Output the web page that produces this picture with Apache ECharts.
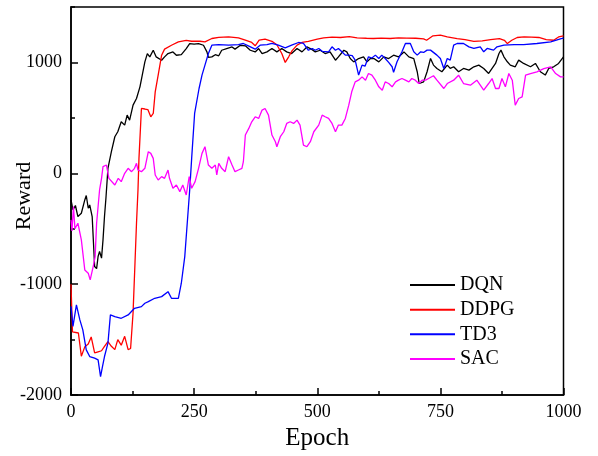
<!DOCTYPE html>
<html>
<head>
<meta charset="utf-8">
<script src="https://cdn.jsdelivr.net/npm/echarts@6/dist/echarts.min.js"></script>
<style>html,body{margin:0;padding:0;background:#fff;}#c{width:598px;height:456px;}</style>
</head>
<body>
<div id="c"></div>
<script>
const seriesNames = ['DQN', 'DDPG', 'TD3', 'SAC'];
const seriesColors = ['#000000', '#ff0000', '#0000ff', '#ff00ff'];
const xTicks = [0, 250, 500, 750, 1000];
const yTicks = [-2000, -1000, 0, 1000];

const dqnEpochs = [0,4,9,14,21,28,31,35,38,43,48,52,55,58,62,65,68,71,75,82,89,95,102,109,114,119,126,133,140,144,150,155,160,167,173,184,190,197,207,214,224,234,241,250,259,269,276,279,286,293,300,306,316,327,333,344,354,364,374,381,388,398,408,418,428,438,448,459,469,479,486,496,506,516,526,537,543,554,560,567,574,584,594,601,608,615,625,635,645,655,665,676,686,696,703,707,716,723,730,736,743,753,764,770,777,787,797,808,818,828,838,848,855,862,869,873,879,886,892,902,909,919,933,943,953,963,970,980,990,1000];
const dqnValues = [-240,-330,-290,-390,-360,-240,-200,-315,-285,-390,-840,-860,-750,-705,-765,-600,-390,-220,45,195,330,375,465,435,525,480,615,675,780,870,1005,1080,1050,1110,1050,1020,1050,1080,1095,1065,1070,1125,1170,1165,1170,1155,1095,1045,1050,1070,1060,1110,1125,1140,1120,1155,1150,1110,1095,1125,1080,1095,1125,1095,1125,1095,1080,1125,1095,1140,1125,1095,1110,1080,1095,1020,1050,1110,1095,1035,1005,1035,1050,1005,1035,1035,1005,1050,1035,1065,1050,1095,1050,1035,916,810,825,916,1036,976,946,916,976,946,961,916,946,931,961,976,946,901,946,991,1081,1111,1051,1006,976,961,1021,991,961,991,916,886,946,961,991,1051];

const ddpgEpochs = [0,3,15,21,28,35,41,48,55,62,68,75,82,89,95,102,109,116,121,126,130,133,136,138,143,150,156,162,167,171,177,184,190,204,218,234,245,262,272,286,300,320,340,354,367,374,382,394,408,418,428,435,442,449,459,469,482,500,513,530,547,565,581,600,614,630,648,665,682,700,716,722,735,750,764,784,800,818,835,852,870,880,886,895,906,920,935,950,965,980,990,1000];
const ddpgValues = [-1000,-1430,-1440,-1650,-1565,-1540,-1475,-1620,-1610,-1600,-1560,-1518,-1560,-1590,-1500,-1550,-1470,-1590,-1580,-1260,-800,-450,-150,135,585,580,575,510,540,735,885,1065,1120,1155,1185,1200,1191,1191,1186,1216,1226,1231,1221,1201,1180,1150,1201,1211,1191,1160,1081,1000,1051,1106,1156,1180,1191,1210,1222,1228,1225,1232,1222,1218,1216,1220,1216,1222,1220,1218,1212,1200,1240,1246,1230,1215,1205,1190,1195,1205,1215,1200,1170,1200,1225,1230,1228,1225,1205,1200,1230,1240];

const td3Epochs = [0,4,11,18,24,31,38,48,55,60,64,68,75,80,89,102,116,129,143,150,157,170,184,197,204,218,224,231,238,241,245,251,255,260,266,272,279,286,300,320,340,350,360,374,384,398,408,421,435,448,462,472,482,490,496,503,510,523,530,537,543,550,557,564,571,577,584,591,597,604,611,618,625,631,638,645,652,655,662,668,672,679,689,696,703,710,716,723,730,743,750,757,764,770,777,784,797,808,818,831,838,845,858,865,879,900,919,946,974,997,1000];
const td3Values = [-1200,-1380,-1187,-1322,-1412,-1592,-1652,-1667,-1682,-1833,-1740,-1652,-1532,-1277,-1292,-1307,-1277,-1217,-1202,-1172,-1157,-1127,-1112,-1067,-1127,-1127,-991,-751,-331,-150,135,540,555,765,886,976,1081,1156,1161,1156,1161,1171,1150,1120,1156,1161,1171,1156,1132,1156,1180,1171,1110,1126,1110,1126,1100,1096,1141,1110,1126,1096,1066,1066,1061,1021,886,976,966,1051,1040,1066,1036,1066,1036,1000,961,911,1006,1060,1096,1171,1171,1096,1066,1096,1090,1111,1111,1066,1036,946,1036,1021,1156,1171,1171,1140,1126,1141,1096,1126,1111,1141,1156,1160,1161,1171,1186,1216,1220];

const sacEpochs = [0,2,5,8,14,21,28,35,39,45,49,52,58,62,65,72,77,81,89,96,102,109,116,123,129,133,136,143,150,157,162,167,171,177,184,190,197,200,207,214,221,227,234,240,245,252,259,266,272,276,279,286,293,296,300,306,313,320,327,333,340,347,350,354,361,367,374,381,388,394,401,408,415,418,425,432,438,445,452,459,465,472,479,486,493,503,510,516,523,530,537,543,550,557,564,570,577,584,591,598,604,611,618,625,632,638,645,652,659,665,672,679,686,692,699,706,713,720,726,736,743,757,764,777,787,797,811,824,838,848,855,862,869,875,882,889,896,902,909,916,923,933,946,960,974,984,994,1000];
const sacValues = [-420,-520,-300,-500,-450,-600,-871,-901,-961,-841,-751,-450,-150,-45,60,75,-45,-30,-105,-45,-75,0,45,15,45,90,30,15,45,195,180,135,-15,-60,-30,-45,30,-45,-135,-105,-165,-105,-195,-30,-135,-75,45,180,240,225,75,45,75,-15,90,45,15,150,75,15,30,45,105,345,405,465,510,495,570,585,525,345,285,240,330,375,450,465,450,480,435,255,240,285,375,435,525,510,495,450,375,435,435,495,615,735,825,840,870,840,900,885,840,780,750,825,810,780,825,840,855,840,825,855,840,810,840,840,855,880,840,765,810,840,885,810,795,840,750,810,855,765,765,855,780,900,840,615,675,690,885,900,915,945,960,900,870,870];

const allEpochs = [dqnEpochs, ddpgEpochs, td3Epochs, sacEpochs];
const allValues = [dqnValues, ddpgValues, td3Values, sacValues];

const FONT = '"Liberation Serif", "Times New Roman", serif';
const chart = echarts.init(document.getElementById('c'), null, {renderer: 'canvas'});

const series = seriesNames.map((name, i) => ({
  name: name,
  type: 'line',
  data: allEpochs[i].map((e, j) => [e, allValues[i][j]]),
  showSymbol: false,
  symbol: 'none',
  lineStyle: {color: seriesColors[i], width: 1.3},
  itemStyle: {color: seriesColors[i]},
  xAxisIndex: 0,
  yAxisIndex: 0,
  animation: false
}));

const plain = v => String(v);

chart.setOption({
  animation: false,
  backgroundColor: '#fff',
  grid: {left: 71, right: 34.5, top: 7, bottom: 60, show: true, borderColor: '#000', borderWidth: 1.5, backgroundColor: 'transparent'},
  xAxis: {
    type: 'value', min: xTicks[0], max: xTicks[xTicks.length - 1], interval: xTicks[1] - xTicks[0],
    axisLine: {onZero: false, lineStyle: {color: '#000', width: 1.5}},
    axisTick: {inside: true, length: 7, lineStyle: {color: '#000', width: 1.5}},
    minorTick: {show: true, splitNumber: 2, length: 4, lineStyle: {color: '#000', width: 1.5}},
    splitLine: {show: false},
    axisLabel: {fontSize: 18, fontFamily: FONT, color: '#000', margin: 8, formatter: plain},
    name: 'Epoch', nameLocation: 'middle', nameGap: 30,
    nameTextStyle: {fontSize: 25, fontFamily: FONT, color: '#000'}
  },
  yAxis: [{
    type: 'value', min: yTicks[0], max: 1500, interval: yTicks[1] - yTicks[0],
    axisLine: {onZero: false, lineStyle: {color: '#000', width: 1.5}},
    axisTick: {inside: true, length: 7, lineStyle: {color: '#000', width: 1.5}},
    splitLine: {show: false},
    axisLabel: {fontSize: 18, fontFamily: FONT, color: '#000', margin: 9, showMaxLabel: false, formatter: plain}
  }, {
    type: 'value', min: yTicks[0], max: 1500, interval: 500, position: 'left', offset: 0,
    axisLine: {show: false},
    axisTick: {inside: true, length: 4, lineStyle: {color: '#000', width: 1.5}},
    splitLine: {show: false},
    axisLabel: {show: false}
  }],
  legend: {
    data: seriesNames, orient: 'vertical', left: 410, top: 272.6, padding: 0,
    itemGap: 0, itemWidth: 45, itemHeight: 2, icon: 'rect',
    textStyle: {fontSize: 20, fontFamily: FONT, color: '#000', lineHeight: 24.7}
  },
  graphic: [{
    type: 'text', x: 24, y: 196, rotation: Math.PI / 2,
    style: {text: 'Reward', font: '22px "Liberation Serif", serif', fill: '#000', align: 'center', verticalAlign: 'middle'}
  }],
  series: series
});
</script>
</body>
</html>
